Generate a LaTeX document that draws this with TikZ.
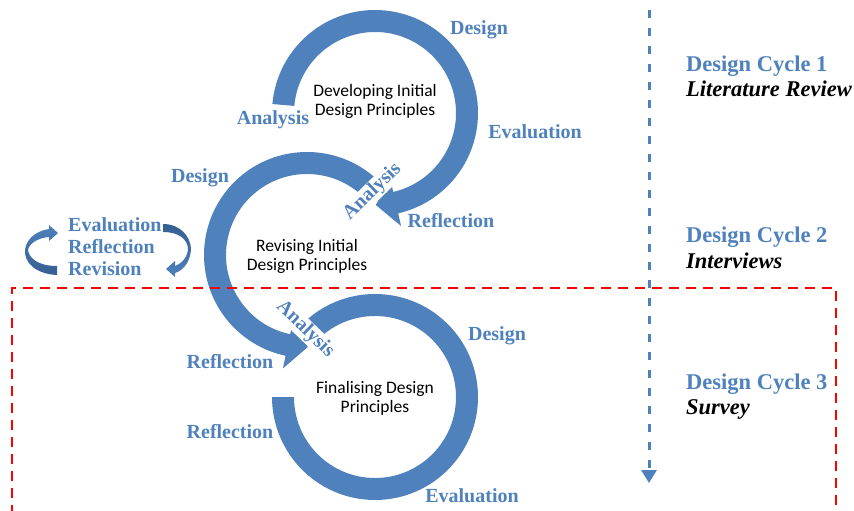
\documentclass[tikz,border=0pt]{standalone}
\usepackage{fontspec}
\setmainfont{Liberation Serif}
\newfontfamily\calibri{Carlito}
\usetikzlibrary{arrows.meta,calc}
\definecolor{ringblue}{RGB}{79,129,189}
\definecolor{darkring}{RGB}{54,95,145}
\tikzset{>=latex}
\tikzset{
  phase/.style = {font=\bfseries\fontsize{20}{22}\selectfont, text=ringblue, inner sep=0pt, anchor=base},
  cut label/.style = {phase, fill=white, inner sep=1pt, anchor=center},
  cycle title/.style = {font=\bfseries\fontsize{22.5}{24}\selectfont, text=ringblue, inner sep=0pt, anchor=base west},
  method/.style = {font=\bfseries\itshape\fontsize{22.5}{24}\selectfont, inner sep=0pt, anchor=base west},
  principle/.style = {font=\calibri\fontsize{17.5}{19}\selectfont, align=center, inner sep=0pt, anchor=base},
  timeline/.style = {ringblue, line width=3pt, dash pattern=on 8pt off 10pt, -{Triangle[width=15pt,length=13pt]}},
  phasebox/.style = {red, line width=2.5pt, dash pattern=on 10pt off 7pt}
}
% thick ring arrow: centre, start angle, end angle, tip angle
\newcommand{\ringarrow}[4]{%
  \fill[ringblue,shift={(#1)}] (#2:103) arc[start angle=#2,end angle=#3,radius=103]
    -- (#3:116) -- (#4:92) -- (#3:68) -- (#3:81)
    arc[start angle=#3,end angle=#2,radius=81] -- cycle;}

\begin{document}
\begin{tikzpicture}[x=1pt,y=1pt]
  \useasboundingbox (0,0) rectangle (854,-511);
  \coordinate (c1) at (375,-113);
  \coordinate (c2) at (307,-255);
  \coordinate (c3) at (375,-397);

  % the three cycles
  \fill[ringblue,shift={(c3)}] (136:103) arc[start angle=136,end angle=-180,radius=103]
    -- (180:81) arc[start angle=-180,end angle=136,radius=81] -- cycle;
  \ringarrow{c2}{44}{258}{270.5}
  \ringarrow{c1}{175}{-77}{-89.5}

  % design cycle 3 frame and time line
  \draw[phasebox] (12,-515) -- (12,-288) -- (836,-288) -- (836,-515);
  \draw[timeline] (649,-10) -- (649,-483);

  \node[cut label,rotate=44] (c2start) at ($(c2)+(44:91)$) {Analysis};
  \node[cut label,rotate=-44] (c3start) at ($(c3)+(136:97)$) {Analysis};

  % base is the last line
  \node[principle] (c1text) at (375,-115) {Developing Initial\\Design Principles};
  \node[principle] (c2text) at (307,-270) {Revising Initial\\Design Principles};
  \node[principle] (c3text) at (375,-412) {Finalising Design\\Principles};

  \node[phase] (c1design) at (479,-35) {Design};
  \node[phase] (c1analysis) at (273,-124) {Analysis};
  \node[phase] (c1eval) at (535,-138) {Evaluation};
  \node[phase] (c1refl) at (451,-227) {Reflection};
  \node[phase] (c2design) at (200,-182) {Design};
  \node[phase] (c2refl) at (230,-368) {Reflection};
  \node[phase] (c3design) at (497,-340) {Design};
  \node[phase] (c3refl) at (230,-438) {Reflection};
  \node[phase] (c3eval) at (472,-502) {Evaluation};

  % revision loop
  \node[phase,align=left,anchor=base west] (loop) at (68,-275)
    {Evaluation\\Reflection\\Revision};
  \shade[top color=ringblue,bottom color=darkring]
    (57,-275) .. controls (35,-274) and (24,-262) .. (25,-250)
    .. controls (26,-240) and (35,-231) .. (49,-229) -- (49,-225) -- (58,-233)
    -- (49,-241) -- (49,-237) .. controls (37,-238) and (29,-244) .. (28,-250)
    .. controls (29,-258) and (38,-266) .. (57,-266) -- cycle;
  \shade[top color=darkring,bottom color=ringblue]
    (163,-224) .. controls (180,-224) and (190,-236) .. (191,-248)
    .. controls (191,-259) and (185,-270) .. (175,-273) -- (175,-277) -- (166,-269)
    -- (175,-261) -- (175,-266) .. controls (183,-263) and (188,-256) .. (188,-248)
    .. controls (187,-240) and (180,-232) .. (163,-232) -- cycle;

  \node[cycle title] (dc1) at (686,-71) {Design Cycle 1};
  \node[method] (m1) at (686,-96) {Literature Review};
  \node[cycle title] (dc2) at (686,-242) {Design Cycle 2};
  \node[method] (m2) at (686,-268) {Interviews};
  \node[cycle title] (dc3) at (686,-389) {Design Cycle 3};
  \node[method] (m3) at (686,-414) {Survey};
\end{tikzpicture}
\end{document}
